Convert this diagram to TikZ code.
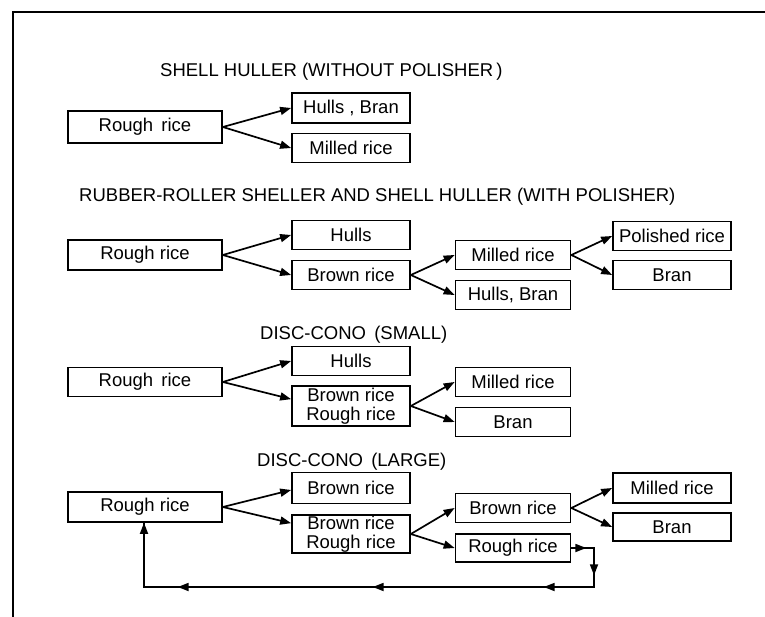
\documentclass[tikz,border=0pt]{standalone}
\usepackage{fontspec}
\setmainfont{Liberation Sans}
\usetikzlibrary{arrows.meta,decorations.markings}
\begin{document}
\begin{tikzpicture}[x=1pt,y=-1pt,
  every node/.style={font=\fontsize{18.5}{18.5}\selectfont},
  ttl/.style={anchor=west,inner sep=0pt},
  box/.style={draw,line width=1.7pt,minimum height=29pt,inner sep=0pt,align=center},
  bigbox/.style={box,minimum width=154pt},
  midbox/.style={box,minimum width=118pt},
  smbox/.style={box,minimum width=115pt},
  tip/.style={-{Triangle[length=11pt,width=8pt]}},
  arr/.style={line width=1.7pt,tip},
  line/.style={line width=1.7pt}]
\useasboundingbox (0,0) rectangle (765,617);
\draw[line] (13,617) -- (13,12) -- (765,12);

% Section 1
\node[ttl] (t1) at (160,72) {SHELL HULLER (WITHOUT POLISHER\,)};
\node[bigbox,minimum height=32pt] (r1) at (145,127) {Rough\, rice};
\node[midbox,minimum height=30pt] (hb1) at (351,108) {Hulls , Bran};
\node[midbox] (m1) at (351,148) {Milled rice};
\draw[arr] (r1.east) -- (hb1.west);
\draw[arr] (r1.east) -- (m1.west);

% Section 2
\node[ttl] (t2) at (79,197) {RUBBER-ROLLER SHELLER AND SHELL HULLER (WITH POLISHER)};
\node[bigbox,minimum height=30pt] (r2) at (145,255) {Rough rice};
\node[midbox] (h2) at (351,235) {Hulls};
\node[midbox] (b2) at (351,275) {Brown rice};
\node[smbox] (m2) at (513,255) {Milled rice};
\node[smbox] (hb2) at (513,295) {Hulls, Bran};
\node[midbox] (p2) at (672,236) {Polished rice};
\node[midbox] (bn2) at (672,275) {Bran};
\draw[arr] (r2.east) -- (h2.west);
\draw[arr] (r2.east) -- (b2.west);
\draw[arr] (b2.east) -- (m2.west);
\draw[arr] (b2.east) -- (hb2.west);
\draw[arr] (m2.east) -- (p2.west);
\draw[arr] (m2.east) -- (bn2.west);

% Section 3
\node[ttl] (t3) at (260,335) {DISC-CONO\, (SMALL)};
\node[bigbox] (r3) at (145,382) {Rough\, rice};
\node[midbox] (h3) at (351,361) {Hulls};
\node[midbox,minimum height=40pt] (br3) at (351,406) {Brown rice\\Rough rice};
\node[smbox] (m3) at (513,382) {Milled rice};
\node[smbox] (bn3) at (513,422) {Bran};
\draw[arr] (r3.east) -- (h3.west);
\draw[arr] (r3.east) -- ([yshift=-14pt]br3.north west);
\draw[arr] (br3.east) -- (m3.west);
\draw[arr] (br3.east) -- (bn3.west);

% Section 4
\node[ttl] (t4) at (257,462) {DISC-CONO\, (LARGE)};
\node[bigbox,minimum height=30pt] (r4) at (145,507) {Rough rice};
\node[midbox,minimum height=31pt] (b4) at (351,488) {Brown rice};
\node[midbox,minimum height=38pt] (br4) at (351,534) {Brown rice\\Rough rice};
\node[smbox] (b4r) at (513,508) {Brown rice};
\node[smbox,minimum height=28pt] (r4r) at (513,548) {Rough rice};
\node[midbox,minimum height=30pt] (m4) at (672,488) {Milled rice};
\node[midbox,minimum height=28pt] (bn4) at (672,527) {Bran};
\draw[arr] (r4.east) -- ([yshift=-2pt]b4.west);
\draw[arr] (r4.east) -- ([yshift=-9pt]br4.north west);
\draw[arr] (br4.east) -- (b4r.west);
\draw[arr] (br4.east) -- (r4r.west);
\draw[arr] (b4r.east) -- (m4.west);
\draw[arr] (b4r.east) -- (bn4.west);

% feedback loop
\coordinate (fr) at (594,548);
\coordinate (fd) at (594,587);
\coordinate (fl) at (144,587);
\draw[line,
  postaction={decorate},
  decoration={markings,
    mark=at position 15pt with {\arrow{Triangle[length=11pt,width=8pt]}},
    mark=at position 50pt with {\arrow{Triangle[length=11pt,width=8pt]}},
    mark=at position 112pt with {\arrow{Triangle[length=11pt,width=8pt]}},
    mark=at position 283pt with {\arrow{Triangle[length=11pt,width=8pt]}},
    mark=at position 478pt with {\arrow{Triangle[length=11pt,width=8pt]}}}]
  (r4r.east) -- (fr) -- (fd) -- (fl) -- (fl |- r4.south);
\draw[arr] ([yshift=-0.1pt]fl |- r4.south) ++(0,8) -- (fl |- r4.south);
\end{tikzpicture}
\end{document}
